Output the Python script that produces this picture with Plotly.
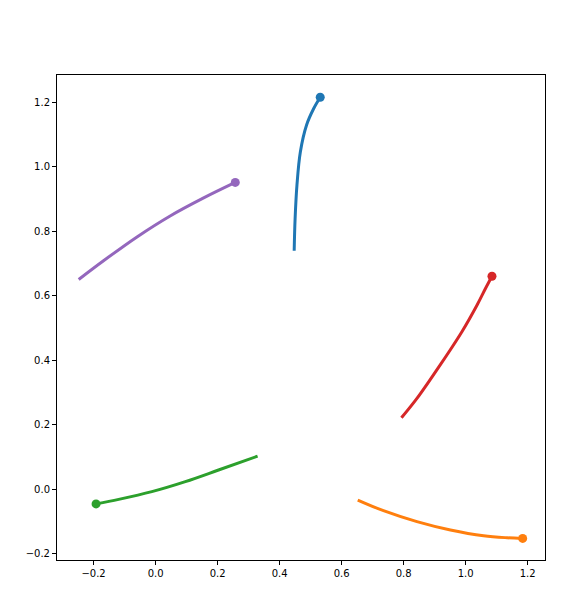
import plotly.graph_objects as go

# curve points, the marker sits on the last point of each
blue_x = [0.447, 0.450, 0.456, 0.467, 0.487, 0.510, 0.531]
blue_y = [0.739, 0.839, 0.943, 1.046, 1.129, 1.180, 1.215]

orange_x = [0.652, 0.735, 0.843, 0.951, 1.058, 1.134, 1.184]
orange_y = [-0.034, -0.067, -0.101, -0.127, -0.145, -0.151, -0.153]

green_x = [0.329, 0.203, 0.096, -0.012, -0.119, -0.192]
green_y = [0.102, 0.059, 0.023, -0.008, -0.032, -0.046]

red_x = [0.793, 0.843, 0.918, 0.988, 1.037, 1.064, 1.085]
red_y = [0.221, 0.281, 0.385, 0.488, 0.571, 0.622, 0.660]

purple_x = [-0.248, -0.168, -0.060, 0.047, 0.155, 0.257]
purple_y = [0.650, 0.708, 0.782, 0.847, 0.903, 0.951]

series = [
    (blue_x, blue_y, "#1f77b4"),
    (orange_x, orange_y, "#ff7f0e"),
    (green_x, green_y, "#2ca02c"),
    (red_x, red_y, "#d62728"),
    (purple_x, purple_y, "#9467bd"),
]

fig = go.Figure()
for xs, ys, color in series:
    fig.add_trace(go.Scatter(x=xs, y=ys, mode="lines",
                             line=dict(color=color, width=3, shape="spline", smoothing=1),
                             showlegend=False, hoverinfo="skip"))
    fig.add_trace(go.Scatter(x=[xs[-1]], y=[ys[-1]], mode="markers",
                             marker=dict(color=color, size=9),
                             showlegend=False, hoverinfo="skip"))

axis_style = dict(
    showgrid=False, zeroline=False,
    showline=True, linecolor="black", linewidth=1, mirror=True,
    ticks="outside", ticklen=4, tickcolor="black",
    tickfont=dict(family="DejaVu Sans", size=10, color="black"),
    tickformat=".1f", tick0=0, dtick=0.2,
)

# the page body adds 8px at top/left, so margins are shifted by that
fig.update_layout(
    width=586, height=608,
    margin=dict(l=49, r=49, t=67, b=56),
    paper_bgcolor="white", plot_bgcolor="white",
    xaxis=dict(range=[-0.318, 1.256], **axis_style),
    yaxis=dict(range=[-0.220, 1.284], **axis_style),
)

fig.write_html("out.html")
